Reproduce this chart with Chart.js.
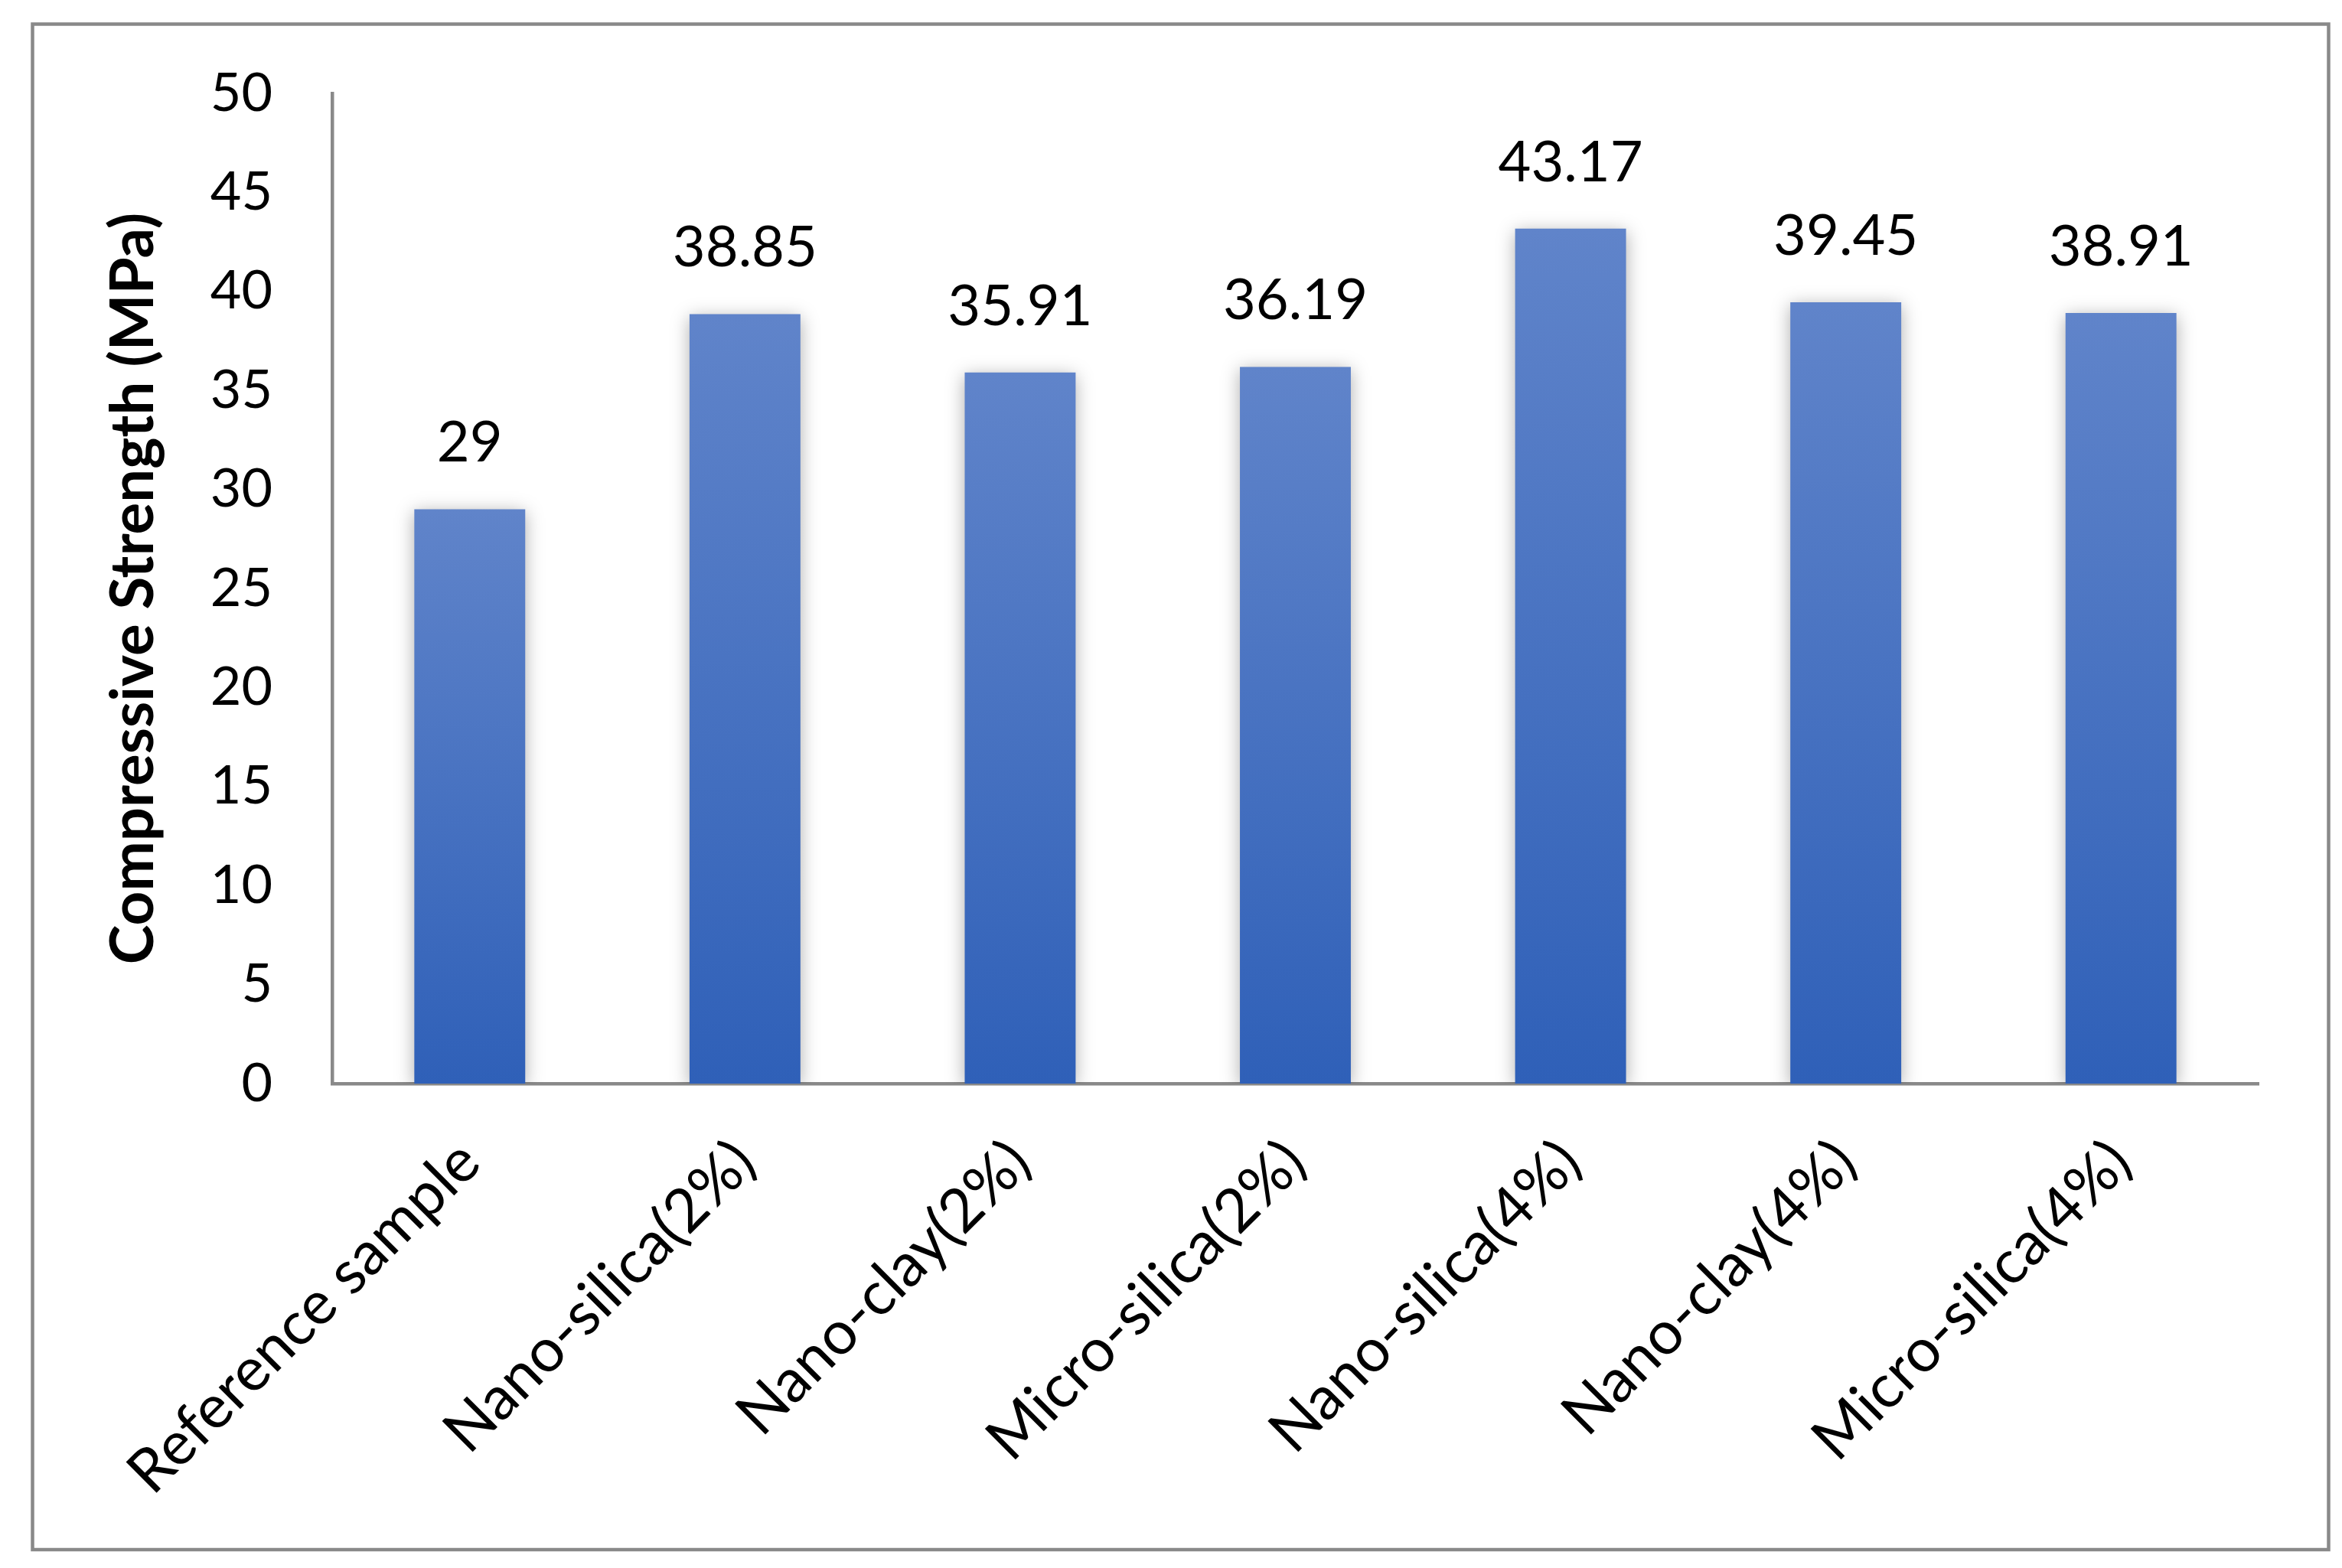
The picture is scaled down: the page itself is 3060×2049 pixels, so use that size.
<!DOCTYPE html>
<html>
<head>
<meta charset="utf-8">
<script src="https://cdn.jsdelivr.net/npm/chart.js@4/dist/chart.umd.min.js"></script>
<style>
  html, body { margin: 0; padding: 0; background: #ffffff; }
  #wrap { width: 3060px; height: 2049px; }
</style>
</head>
<body>
<div id="wrap"><canvas id="c" width="3060" height="2049"></canvas></div>
<script>
const categories = ['Reference sample', 'Nano-silica(2%)', 'Nano-clay(2%)', 'Micro-silica(2%)', 'Nano-silica(4%)', 'Nano-clay(4%)', 'Micro-silica(4%)'];
const strengthValues = [29, 38.85, 35.91, 36.19, 43.17, 39.45, 38.91];
const valueLabels = ['29', '38.85', '35.91', '36.19', '43.17', '39.45', '38.91'];
const yAxisTitle = 'Compressive Strength (MPa)';
const yMin = 0, yMax = 50, yStep = 5;

const FONT = 'Lato';
const barTop = '#6084CA';
const barBottom = '#2F60B8';
const axisGray = '#898989';

const frame = {
  id: 'frame',
  beforeDraw(chart) {
    const c = chart.ctx;
    c.save();
    c.fillStyle = '#ffffff';
    c.fillRect(0, 0, chart.width, chart.height);
    c.strokeStyle = axisGray;
    c.lineWidth = 4.5;
    c.strokeRect(42.5, 31.5, 3000, 1993.5);
    c.restore();
  }
};

const barShadow = {
  id: 'barShadow',
  beforeDatasetsDraw(chart) {
    const c = chart.ctx;
    c.save();
    c.shadowColor = 'rgba(0,0,0,0.32)';
    c.shadowBlur = 22;
    c.shadowOffsetX = 0;
    c.shadowOffsetY = 4;
  },
  afterDatasetsDraw(chart) {
    chart.ctx.restore();
  }
};

const valueText = {
  id: 'valueText',
  afterDatasetsDraw(chart) {
    const c = chart.ctx;
    const meta = chart.getDatasetMeta(0);
    c.save();
    c.font = '74px ' + FONT;
    c.fillStyle = '#000000';
    c.textAlign = 'center';
    c.textBaseline = 'middle';
    meta.data.forEach((el, i) => {
      c.fillText(valueLabels[i], el.x, el.y - 86);
    });
    c.restore();
  }
};

new Chart(document.getElementById('c'), {
  type: 'bar',
  data: {
    labels: categories,
    datasets: [{
      data: strengthValues,
      backgroundColor: (ctx) => {
        const chart = ctx.chart;
        if (!chart.chartArea || ctx.type !== 'data') return barBottom;
        const ys = chart.scales.y;
        const t = ys.getPixelForValue(ctx.raw);
        const b = ys.getPixelForValue(0);
        const g = chart.ctx.createLinearGradient(0, t, 0, b);
        g.addColorStop(0, barTop);
        g.addColorStop(1, barBottom);
        return g;
      },
      borderWidth: 0,
      categoryPercentage: 1.0,
      barPercentage: 0.403
    }]
  },
  options: {
    responsive: false,
    animation: false,
    devicePixelRatio: 1,
    layout: { padding: { left: 128, top: 122, right: 109, bottom: 60 } },
    plugins: {
      legend: { display: false },
      tooltip: { enabled: false }
    },
    scales: {
      x: {
        grid: { display: false, drawTicks: false },
        border: { display: true, color: axisGray, width: 4.5 },
        ticks: {
          color: '#000000',
          font: { family: FONT, size: 79 },
          minRotation: 45,
          maxRotation: 45,
          autoSkip: false,
          padding: 56
        },
        afterFit(scale) { scale.height = 2049 - 1416 - 60; }
      },
      y: {
        min: yMin,
        max: yMax,
        grid: { display: false, drawTicks: false },
        border: { display: true, color: axisGray, width: 4.5 },
        ticks: {
          stepSize: yStep,
          color: '#000000',
          font: { family: FONT, size: 70 },
          padding: 78
        },
        title: {
          display: true,
          text: yAxisTitle,
          color: '#000000',
          font: { family: FONT, size: 78, weight: 'bold' },
          padding: 0
        },
        afterFit(scale) { scale.width = 434 - 128; }
      }
    }
  },
  plugins: [frame, barShadow, valueText]
});
</script>
</body>
</html>
